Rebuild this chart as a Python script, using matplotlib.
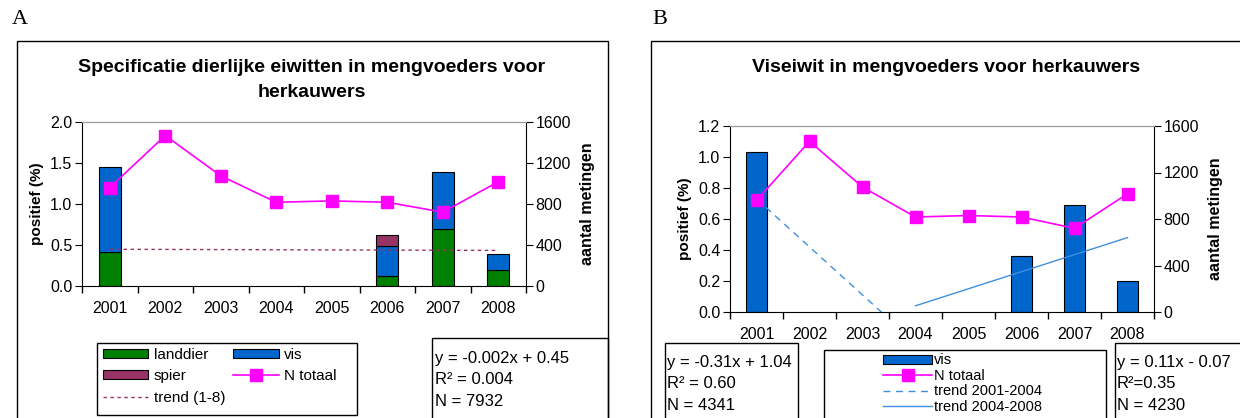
import numpy as np
import matplotlib
matplotlib.use("Agg")
import matplotlib.pyplot as plt
from matplotlib.patches import Rectangle, Patch
from matplotlib.lines import Line2D

plt.rcParams["font.family"] = ["Liberation Sans", "DejaVu Sans"]

# ---- data ----
years = ["2001", "2002", "2003", "2004", "2005", "2006", "2007", "2008"]
n_totaal = [960, 1468, 1075, 817, 830, 817, 720, 1017]

# panel A, stacked percentages (nan = no bar)
landdier = [0.42, np.nan, np.nan, np.nan, np.nan, 0.12, 0.69, 0.19]
vis_a = [1.03, np.nan, np.nan, np.nan, np.nan, 0.37, 0.70, 0.20]
spier = [np.nan, np.nan, np.nan, np.nan, np.nan, 0.13, np.nan, np.nan]
trend_a = (-0.002, 0.45)  # slope, intercept over index 1..8

# panel B
vis_b = [1.03, np.nan, np.nan, np.nan, np.nan, 0.36, 0.69, 0.20]
trend_b1 = (-0.31, 1.04)  # 2001-2004, index 1..4
trend_b2 = (0.11, -0.07)  # 2004-2008, index 1..5

GREEN = "#008000"
BLUE = "#0066CC"
PURPLE = "#993366"
MAGENTA = "#FF00FF"
LBLUE = "#3F8FE0"

W, H = 1240, 418
fig = plt.figure(figsize=(W / 100, H / 100), dpi=100)


def fx(x):
    return x / W


def fy(y):
    return 1 - y / H


def box(x0, y0, x1, y1, lw=1.0, color="black"):
    fig.patches.append(Rectangle((fx(x0), fy(y1)), fx(x1 - x0), (y1 - y0) / H,
                                 transform=fig.transFigure, fill=False,
                                 lw=lw, edgecolor=color, clip_on=False))


def style_axes(ax, ax2, ymax, yticks, yfmt):
    x = np.arange(len(years))
    ax.set_xlim(-0.5, len(years) - 0.5)
    ax.set_ylim(0, ymax)
    ax.set_yticks(yticks)
    ax.set_yticklabels([yfmt.format(v) for v in yticks])
    ax.set_xticks(np.arange(len(years) + 1) - 0.5)
    ax.set_xticklabels([])
    ax.set_xticks(x, minor=True)
    ax.set_xticklabels(years, minor=True)
    ax.tick_params(axis="x", which="minor", length=0, pad=11, labelsize=11.5)
    ax.tick_params(axis="x", which="major", length=5, direction="out", width=1)
    ax.tick_params(axis="y", length=5, direction="out", labelsize=11.5, pad=2)
    ax.set_ylabel("positief (%)", fontweight="bold", fontsize=11, labelpad=4)
    for s in ["left", "bottom"]:
        ax.spines[s].set_color("black")
    ax.spines["top"].set_color("#9a9a9a")
    ax.spines["right"].set_visible(False)
    ax2.set_ylim(0, 1600)
    ax2.set_yticks([0, 400, 800, 1200, 1600])
    ax2.tick_params(axis="y", length=5, direction="out", labelsize=11.5, pad=2)
    ax2.set_ylabel("aantal metingen", fontweight="bold", fontsize=11.5, labelpad=6)
    ax2.spines["left"].set_visible(False)
    ax2.spines["bottom"].set_visible(False)
    ax2.spines["top"].set_color("#9a9a9a")
    ax2.spines["right"].set_color("black")
    ax2.plot(x, n_totaal, color=MAGENTA, lw=1.2, marker="s", ms=8,
             markerfacecolor=MAGENTA, markeredgecolor=MAGENTA)


# ================= Panel A =================
fig.text(fx(12), fy(20), "A", family="Liberation Serif", fontsize=16, va="center")
box(17, 41, 608, 430)

axA = fig.add_axes([fx(82), fy(286), fx(526 - 82), (286 - 122) / H])
axA2 = axA.twinx()
x = np.arange(len(years))
bw = 0.4
bottom2 = np.array(landdier) + np.array(vis_a)
axA.bar(x, landdier, bw, color=GREEN, edgecolor="black", lw=0.8)
axA.bar(x, vis_a, bw, bottom=landdier, color=BLUE, edgecolor="black", lw=0.8)
axA.bar(x, spier, bw, bottom=bottom2, color=PURPLE, edgecolor="black", lw=0.8)
t = np.arange(1, 9)
axA.plot(t - 1, trend_a[0] * t + trend_a[1], color=PURPLE, lw=1.0,
         linestyle=(0, (2.5, 2.5)))
style_axes(axA, axA2, 2.0, [0, 0.5, 1.0, 1.5, 2.0], "{:.1f}")
fig.text(fx(312), fy(80), "Specificatie dierlijke eiwitten in mengvoeders voor\nherkauwers",
         ha="center", va="center", fontweight="bold", fontsize=14, linespacing=1.55)

# legend A
box(97, 343, 357, 415)
hA = [Patch(facecolor=GREEN, edgecolor="black", lw=0.8),
      Patch(facecolor=PURPLE, edgecolor="black", lw=0.8),
      Line2D([], [], color=PURPLE, lw=1.0, linestyle=(0, (2.5, 2.5))),
      Patch(facecolor=BLUE, edgecolor="black", lw=0.8),
      Line2D([], [], color=MAGENTA, lw=1.2, marker="s", ms=8)]
lA = ["landdier", "spier", "trend (1-8)", "vis", "N totaal"]
fig.legend(hA, lA, ncol=2, loc="upper left", bbox_to_anchor=(fx(98), fy(343)),
           frameon=False, fontsize=11, handlelength=3.0, handleheight=0.55,
           handletextpad=0.35, columnspacing=0.5, labelspacing=0.5,
           borderpad=0.3, borderaxespad=0)

box(432, 338, 608, 430)
fig.text(fx(435), fy(359), "y = -0.002x + 0.45", fontsize=12, va="center")
fig.text(fx(435), fy(380), "R² = 0.004", fontsize=12, va="center")
fig.text(fx(435), fy(401), "N = 7932", fontsize=12, va="center")

# ================= Panel B =================
fig.text(fx(652), fy(20), "B", family="Liberation Serif", fontsize=16, va="center")
box(651, 41, 1260, 430)

axB = fig.add_axes([fx(730), fy(312), fx(1154 - 730), (312 - 126) / H])
axB2 = axB.twinx()
axB.bar(x, vis_b, bw, color=BLUE, edgecolor="black", lw=0.8)
t1 = np.arange(1, 5)
axB.plot(t1 - 1, trend_b1[0] * t1 + trend_b1[1], color=LBLUE, lw=1.0,
         linestyle=(0, (5, 4)))
t2 = np.arange(1, 6)
axB.plot(t2 + 2, trend_b2[0] * t2 + trend_b2[1], color=LBLUE, lw=1.0)
style_axes(axB, axB2, 1.2, [0, 0.2, 0.4, 0.6, 0.8, 1.0, 1.2], "{:.1f}")
fig.text(fx(946), fy(67), "Viseiwit in mengvoeders voor herkauwers",
         ha="center", va="center", fontweight="bold", fontsize=14)

box(665, 343, 798, 430)
fig.text(fx(667), fy(363), "y = -0.31x + 1.04", fontsize=12, va="center")
fig.text(fx(667), fy(384), "R² = 0.60", fontsize=12, va="center")
fig.text(fx(667), fy(405), "N = 4341", fontsize=12, va="center")

box(824, 350, 1106, 430)
hB = [Patch(facecolor=BLUE, edgecolor="black", lw=0.8),
      Line2D([], [], color=MAGENTA, lw=1.2, marker="s", ms=8),
      Line2D([], [], color=LBLUE, lw=1.0, linestyle=(0, (5, 4))),
      Line2D([], [], color=LBLUE, lw=1.0)]
lB = ["vis", "N totaal", "trend 2001-2004", "trend 2004-2008"]
fig.legend(hB, lB, ncol=1, loc="upper left", bbox_to_anchor=(fx(882), fy(352)),
           frameon=False, fontsize=10.5, handlelength=3.3, handleheight=0.55,
           handletextpad=0.15, labelspacing=0.1, borderpad=0.1, borderaxespad=0)

box(1115, 343, 1260, 430)
fig.text(fx(1117), fy(363), "y = 0.11x - 0.07", fontsize=12, va="center")
fig.text(fx(1117), fy(384), "R²=0.35", fontsize=12, va="center")
fig.text(fx(1117), fy(405), "N = 4230", fontsize=12, va="center")

fig.savefig("out.png", dpi=100)
